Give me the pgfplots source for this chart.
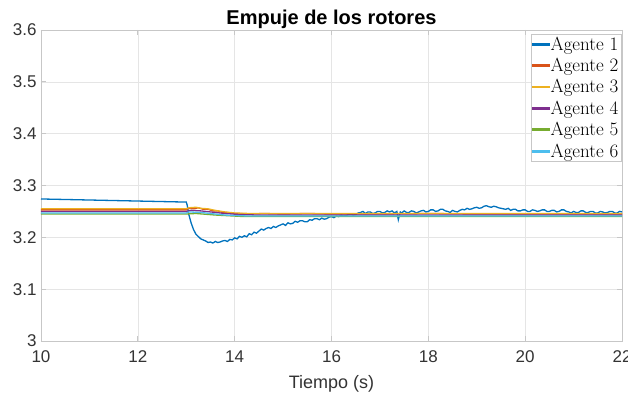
\documentclass[border=0pt]{standalone}
\usepackage{pgfplots}
\pgfplotsset{compat=1.18}
\usepackage{fontspec}
\newfontfamily\helv{Liberation Sans}

% MATLAB default line colours
\definecolor{c1}{rgb}{0,0.447,0.741}
\definecolor{c2}{rgb}{0.85,0.325,0.098}
\definecolor{c3}{rgb}{0.929,0.694,0.125}
\definecolor{c4}{rgb}{0.494,0.184,0.556}
\definecolor{c5}{rgb}{0.466,0.674,0.188}
\definecolor{c6}{rgb}{0.301,0.745,0.933}
\definecolor{axgray}{gray}{0.78}
\definecolor{gridgray}{gray}{0.9}
\definecolor{txtgray}{gray}{0.2}

\begin{document}
\begin{tikzpicture}
\begin{axis}[
  name=ax,
  scale only axis,
  width=581pt, height=311pt,
  xmin=10, xmax=22, ymin=3, ymax=3.6,
  xtick={10,12,14,16,18,20,22},
  xticklabels={10,12,14,16,18,20,22},
  ytick={3,3.1,3.2,3.3,3.4,3.5,3.6},
  yticklabels={3,3.1,3.2,3.3,3.4,3.5,3.6},
  /pgf/number format/assume math mode=true,
  grid=major,
  major grid style={gridgray, line width=0.6pt},
  axis line style={axgray, line width=0.8pt},
  tick style={axgray, line width=0.8pt},
  major tick length=5pt,
  tick align=inside,
  ticklabel style={font=\helv\fontsize{17}{19}\selectfont, text=txtgray},
  xticklabel style={yshift=-6pt},
  yticklabel style={xshift=-1pt},
  xlabel={Tiempo (s)},
  xlabel style={font=\helv\fontsize{18}{20}\selectfont, text=txtgray, yshift=-6pt},
  title={\textbf{Empuje de los rotores}},
  title style={font=\helv\fontsize{20}{22}\selectfont, yshift=-8pt},
  legend style={
    at={(rel axis cs:1,1)}, anchor=north east, xshift=-1pt, yshift=-4pt,
    draw=axgray, fill=white,
    font=\fontsize{19}{22}\selectfont,
    inner sep=1.5pt, row sep=4.5pt,
    nodes={inner sep=1pt},
  },
  legend cell align=left,
  legend image code/.code={\fill[#1] (0pt,-0.8pt) rectangle (16pt,0.8pt);},
]
% Agente 1
\addplot[c1, line width=1.3pt] coordinates {
(10,3.274) (13.0,3.268) (13.02,3.262) (13.05,3.245) (13.1,3.228) (13.15,3.215)
(13.2,3.206) (13.3,3.197) (13.4,3.193) (13.45,3.190) (13.5,3.191) (13.55,3.189)
(13.6,3.192) (13.65,3.190) (13.7,3.191) (13.75,3.193) (13.8,3.194) (13.85,3.192)
(13.9,3.196) (13.95,3.195) (14.0,3.199) (14.05,3.197) (14.1,3.202) (14.15,3.200)
(14.2,3.203) (14.25,3.201) (14.3,3.207) (14.35,3.205) (14.4,3.210) (14.45,3.208)
(14.5,3.212) (14.55,3.216) (14.6,3.214) (14.65,3.217) (14.7,3.219) (14.75,3.217)
(14.8,3.221) (14.85,3.219) (14.9,3.222) (14.95,3.224) (15.0,3.226) (15.05,3.223)
(15.1,3.228) (15.15,3.226) (15.2,3.227) (15.25,3.231) (15.3,3.229) (15.35,3.232)
(15.4,3.232) (15.45,3.230) (15.5,3.230) (15.55,3.234) (15.6,3.233) (15.65,3.236)
(15.7,3.236) (15.75,3.234) (15.8,3.237) (15.85,3.235) (15.9,3.236) (15.95,3.239)
(16.0,3.240) (16.05,3.238) (16.1,3.241) (16.15,3.240) (16.2,3.243) (16.25,3.241)
(16.3,3.242) (16.35,3.244) (16.4,3.245) (16.45,3.243) (16.5,3.244) (16.55,3.247)
(16.6,3.248) (16.65,3.250) (16.7,3.246) (16.75,3.249) (16.8,3.249) (16.85,3.246)
(16.9,3.247) (16.95,3.250) (17.0,3.250) (17.05,3.247) (17.1,3.248) (17.15,3.251)
(17.2,3.249) (17.25,3.251) (17.3,3.247) (17.35,3.250) (17.38,3.234) (17.42,3.249)
(17.45,3.247) (17.5,3.251) (17.55,3.248) (17.6,3.248) (17.65,3.251) (17.7,3.250)
(17.75,3.247) (17.8,3.249) (17.85,3.251) (17.9,3.252) (17.95,3.249) (18.0,3.250)
(18.05,3.253) (18.1,3.253) (18.15,3.250) (18.2,3.251) (18.25,3.254) (18.3,3.254)
(18.35,3.251) (18.4,3.250) (18.45,3.248) (18.5,3.252) (18.55,3.250) (18.6,3.249)
(18.65,3.252) (18.7,3.254) (18.75,3.253) (18.8,3.256) (18.85,3.254) (18.9,3.255)
(18.95,3.257) (19.0,3.258) (19.05,3.256) (19.1,3.257) (19.15,3.260) (19.2,3.261)
(19.25,3.259) (19.3,3.258) (19.35,3.260) (19.4,3.259) (19.45,3.257) (19.5,3.256)
(19.55,3.255) (19.6,3.254) (19.65,3.256) (19.7,3.252) (19.75,3.254) (19.8,3.254)
(19.85,3.251) (19.9,3.251) (19.95,3.253) (20.0,3.253) (20.05,3.250) (20.1,3.250)
(20.15,3.253) (20.2,3.252) (20.25,3.250) (20.3,3.251) (20.35,3.253) (20.4,3.253)
(20.45,3.250) (20.5,3.250) (20.55,3.252) (20.6,3.252) (20.65,3.249) (20.7,3.250)
(20.75,3.253) (20.8,3.253) (20.85,3.250) (20.9,3.249) (20.95,3.247) (21.0,3.250)
(21.05,3.248) (21.1,3.248) (21.15,3.251) (21.2,3.251) (21.25,3.248) (21.3,3.248)
(21.35,3.250) (21.4,3.250) (21.45,3.247) (21.5,3.247) (21.55,3.250) (21.6,3.249)
(21.65,3.247) (21.7,3.248) (21.75,3.250) (21.8,3.250) (21.85,3.247) (21.9,3.247)
(21.95,3.250) (22.0,3.249)
};
% Agente 2
\addplot[c2, line width=1.3pt] coordinates {
(10,3.253) (13.0,3.253) (13.05,3.256) (13.15,3.255) (13.25,3.257) (13.35,3.254)
(13.45,3.254) (13.55,3.251) (13.65,3.251) (13.75,3.248) (13.85,3.248) (13.95,3.246)
(14.1,3.246) (14.3,3.245) (14.6,3.246) (15.0,3.245) (15.5,3.246) (16.0,3.245)
(17.0,3.245) (18.0,3.246) (19.0,3.245) (20.0,3.245) (21.0,3.245) (22.0,3.245)
};
% Agente 3
\addplot[c3, line width=1.3pt] coordinates {
(10,3.255) (13.0,3.255) (13.05,3.257) (13.2,3.258) (13.3,3.256) (13.45,3.255)
(13.6,3.252) (13.8,3.249) (14.0,3.247) (14.3,3.246) (15.0,3.246) (16.0,3.246)
(18.0,3.246) (20.0,3.246) (22.0,3.246)
};
% Agente 4
\addplot[c4, line width=1.3pt] coordinates {
(10,3.250) (13.0,3.250) (13.1,3.252) (13.3,3.251) (13.5,3.249) (13.8,3.246)
(14.1,3.244) (14.5,3.243) (16.0,3.243) (18.0,3.243) (20.0,3.243) (22.0,3.243)
};
% Agente 5
\addplot[c5, line width=1.3pt] coordinates {
(10,3.245) (13.0,3.245) (13.2,3.246) (13.6,3.243) (14.2,3.240) (16.0,3.240)
(18.0,3.240) (20.0,3.240) (22.0,3.240)
};
% Agente 6
\addplot[c6, line width=1.3pt] coordinates {
(10,3.247) (13.0,3.247) (13.05,3.249) (13.3,3.248) (13.8,3.243) (14.3,3.241)
(16.0,3.241) (18.0,3.241) (20.0,3.241) (22.0,3.241)
};
\legend{Agente 1,Agente 2,Agente 3,Agente 4,Agente 5,Agente 6}
\end{axis}
\pgfresetboundingbox
\path ([xshift=-41pt,yshift=-53pt]ax.south west) rectangle ([xshift=6pt,yshift=30pt]ax.north east);
\end{tikzpicture}
\end{document}
